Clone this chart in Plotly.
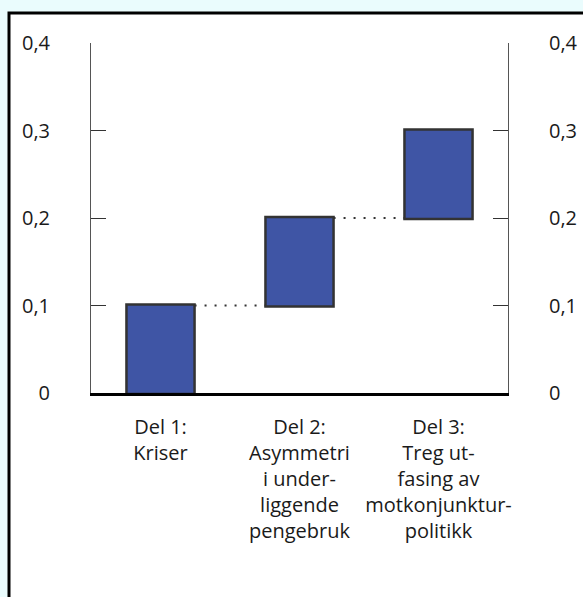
import plotly.graph_objects as go

categories = [
    "Del 1:<br>Kriser",
    "Del 2:<br>Asymmetri<br>i under-<br>liggende<br>pengebruk",
    "Del 3:<br>Treg ut-<br>fasing av<br>motkonjunktur-<br>politikk",
]
contributions = [0.1, 0.1, 0.1]
tick_vals = [0, 0.1, 0.2, 0.3, 0.4]
tick_text = ["0", "0,1", "0,2", "0,3", "0,4"]

FONT = "Open Sans"
BAR_FILL = "#3f55a5"
BAR_EDGE = "#333333"
BG = "#eafcfd"

fig = go.Figure()
fig.add_trace(go.Waterfall(
    x=categories,
    y=contributions,
    measure=["relative"] * len(contributions),
    increasing=dict(marker=dict(color=BAR_FILL, line=dict(color=BAR_EDGE, width=2.5))),
    connector=dict(mode="between", line=dict(color="#333333", width=2, dash="2px,8px")),
    width=[0.49] * len(contributions),
    hoverinfo="skip",
    showlegend=False,
))
# invisible trace to anchor the right-hand axis
fig.add_trace(go.Scatter(
    x=categories, y=contributions, yaxis="y2", mode="markers",
    marker=dict(opacity=0), hoverinfo="skip", showlegend=False,
))

axis_font = dict(family=FONT, size=20, color="#1a1a1a")
yaxis_common = dict(
    range=[0, 0.4], tickvals=tick_vals, ticktext=tick_text,
    ticks="inside", ticklen=15, tickcolor="#333333", tickwidth=1,
    showline=True, linecolor="#555555", linewidth=1,
    showgrid=False, zeroline=False, tickfont=axis_font,
    ticklabelstandoff=36, fixedrange=True, automargin=False,
)

fig.update_layout(
    width=583, height=597,
    margin=dict(l=91, r=75, t=43, b=204),
    paper_bgcolor=BG,
    plot_bgcolor="white",
    font=dict(family=FONT),
    xaxis=dict(
        showline=True, linecolor="black", linewidth=3,
        ticks="", showgrid=False, tickfont=axis_font,
        ticklabelstandoff=14, automargin=False, fixedrange=True,
    ),
    yaxis=dict(side="left", **yaxis_common),
    yaxis2=dict(side="right", overlaying="y", **yaxis_common),
    shapes=[dict(
        type="rect", xref="paper", yref="paper",
        x0=(9 - 91) / 417, x1=(600 - 91) / 417,
        y0=(393 - 620) / 350, y1=(393 - 13) / 350,
        fillcolor="white", line=dict(color="black", width=3), layer="below",
    )],
)

fig.write_html(
    "out.html",
    config=dict(displayModeBar=False),
    post_script=(
        "document.body.style.margin='0';"
        "document.body.style.padding='0';"
        "document.body.style.overflow='hidden';"
        "document.body.style.background='" + BG + "';"
    ),
)
